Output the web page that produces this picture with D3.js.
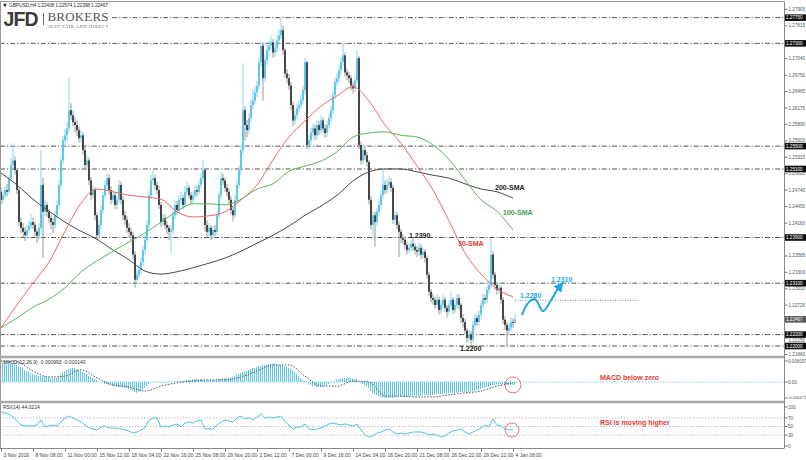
<!DOCTYPE html>
<html><head><meta charset="utf-8">
<script src="https://cdn.jsdelivr.net/npm/d3@7"></script>
<style>html,body{margin:0;padding:0;background:#fff;}svg{display:block;font-family:"Liberation Sans",Arial,sans-serif;}</style>
</head><body><svg id="c" width="806" height="460"></svg>
<script>
const opens=[1.2470,1.2456,1.2464,1.2473,1.2470,1.2494,1.2517,1.2525,1.2508,1.2473,
1.2417,1.2407,1.2400,1.2394,1.2403,1.2410,1.2417,1.2412,1.2400,1.2393,
1.2407,1.2482,1.2435,1.2447,1.2435,1.2424,1.2417,1.2412,1.2429,1.2447,
1.2482,1.2525,1.2560,1.2569,1.2581,1.2613,1.2604,1.2592,1.2587,1.2578,
1.2564,1.2569,1.2543,1.2517,1.2525,1.2490,1.2464,1.2473,1.2429,1.2394,
1.2412,1.2438,1.2464,1.2482,1.2494,1.2473,1.2456,1.2464,1.2447,1.2456,
1.2482,1.2456,1.2429,1.2421,1.2407,1.2400,1.2394,1.2360,1.2316,1.2325,
1.2333,1.2347,1.2368,1.2386,1.2412,1.2464,1.2490,1.2494,1.2482,1.2473,
1.2447,1.2417,1.2424,1.2412,1.2407,1.2400,1.2403,1.2429,1.2447,1.2438,
1.2456,1.2459,1.2447,1.2470,1.2477,1.2464,1.2456,1.2464,1.2473,1.2470,
1.2482,1.2494,1.2508,1.2412,1.2400,1.2407,1.2394,1.2403,1.2400,1.2429,
1.2464,1.2494,1.2490,1.2477,1.2470,1.2456,1.2438,1.2429,1.2456,1.2482,
1.2508,1.2543,1.2613,1.2587,1.2578,1.2599,1.2622,1.2630,1.2644,1.2656,
1.2697,1.2726,1.2669,1.2700,1.2718,1.2726,1.2732,1.2714,1.2721,1.2735,
1.2744,1.2753,1.2718,1.2677,1.2669,1.2656,1.2622,1.2595,1.2604,1.2616,
1.2622,1.2630,1.2648,1.2697,1.2552,1.2560,1.2574,1.2581,1.2569,1.2587,
1.2578,1.2595,1.2581,1.2573,1.2587,1.2599,1.2613,1.2639,1.2662,1.2669,
1.2683,1.2697,1.2709,1.2679,1.2674,1.2669,1.2656,1.2651,1.2665,1.2704,
1.2552,1.2525,1.2543,1.2534,1.2522,1.2456,1.2412,1.2429,1.2417,1.2435,
1.2447,1.2464,1.2482,1.2473,1.2482,1.2487,1.2477,1.2421,1.2429,1.2412,
1.2400,1.2389,1.2386,1.2377,1.2368,1.2372,1.2379,1.2374,1.2368,1.2365,
1.2372,1.2360,1.2365,1.2354,1.2325,1.2295,1.2284,1.2281,1.2272,1.2281,
1.2263,1.2272,1.2281,1.2267,1.2260,1.2272,1.2281,1.2263,1.2272,1.2284,
1.2272,1.2249,1.2242,1.2227,1.2214,1.2220,1.2211,1.2237,1.2249,1.2242,
1.2255,1.2272,1.2284,1.2281,1.2298,1.2307,1.2360,1.2325,1.2307,1.2298,
1.2302,1.2281,1.2246,1.2237,1.2227,1.2232,1.2242,1.22408];
const highs=[1.2478,1.2472,1.2480,1.2484,1.2500,1.2530,1.2555,1.2532,1.2512,1.2478,
1.2425,1.2415,1.2408,1.2412,1.2420,1.2432,1.2425,1.2418,1.2405,1.2415,
1.2543,1.2495,1.2456,1.2452,1.2440,1.2430,1.2424,1.2436,1.2455,1.2490,
1.2532,1.2568,1.2580,1.2592,1.2670,1.2625,1.2612,1.2600,1.2595,1.2584,
1.2578,1.2574,1.2550,1.2534,1.2530,1.2496,1.2482,1.2478,1.2434,1.2420,
1.2445,1.2470,1.2490,1.2503,1.2500,1.2480,1.2472,1.2470,1.2462,1.2490,
1.2488,1.2462,1.2436,1.2428,1.2415,1.2408,1.2400,1.2366,1.2334,1.2342,
1.2356,1.2375,1.2394,1.2420,1.2472,1.2500,1.2508,1.2500,1.2488,1.2480,
1.2452,1.2432,1.2430,1.2418,1.2412,1.2410,1.2436,1.2455,1.2454,1.2464,
1.2470,1.2465,1.2480,1.2488,1.2482,1.2470,1.2472,1.2482,1.2480,1.2490,
1.2502,1.2525,1.2512,1.2420,1.2415,1.2412,1.2410,1.2412,1.2436,1.2470,
1.2505,1.2502,1.2495,1.2484,1.2476,1.2462,1.2445,1.2464,1.2490,1.2516,
1.2552,1.2695,1.2620,1.2596,1.2608,1.2632,1.2650,1.2655,1.2664,1.2705,
1.2734,1.2730,1.2710,1.2728,1.2735,1.2742,1.2738,1.2730,1.2744,1.2755,
1.2774,1.2762,1.2722,1.2685,1.2676,1.2662,1.2628,1.2612,1.2624,1.2630,
1.2640,1.2656,1.2704,1.2700,1.2570,1.2582,1.2590,1.2588,1.2595,1.2594,
1.2604,1.2600,1.2588,1.2594,1.2606,1.2620,1.2646,1.2670,1.2678,1.2692,
1.2706,1.2730,1.2714,1.2686,1.2680,1.2674,1.2662,1.2672,1.2718,1.2708,
1.2558,1.2552,1.2550,1.2540,1.2526,1.2462,1.2436,1.2435,1.2442,1.2455,
1.2472,1.2508,1.2490,1.2492,1.2498,1.2494,1.2482,1.2436,1.2434,1.2418,
1.2405,1.2396,1.2392,1.2382,1.2380,1.2386,1.2390,1.2380,1.2375,1.2380,
1.2378,1.2372,1.2370,1.2358,1.2330,1.2300,1.2292,1.2286,1.2290,1.2286,
1.2280,1.2290,1.2286,1.2272,1.2280,1.2295,1.2286,1.2280,1.2292,1.2290,
1.2276,1.2256,1.2248,1.2232,1.2228,1.2226,1.2244,1.2256,1.2254,1.2262,
1.2280,1.2292,1.2290,1.2306,1.2316,1.2389,1.2366,1.2330,1.2312,1.2310,
1.2306,1.2286,1.2252,1.2242,1.2240,1.2250,1.2248,1.22574];
const lows=[1.2448,1.2450,1.2458,1.2462,1.2466,1.2488,1.2510,1.2500,1.2466,1.2410,
1.2398,1.2390,1.2384,1.2388,1.2398,1.2405,1.2404,1.2392,1.2380,1.2386,
1.2400,1.2354,1.2428,1.2426,1.2415,1.2405,1.2398,1.2405,1.2422,1.2440,
1.2476,1.2518,1.2550,1.2560,1.2575,1.2596,1.2585,1.2575,1.2568,1.2556,
1.2555,1.2535,1.2508,1.2510,1.2482,1.2455,1.2458,1.2420,1.2386,1.2388,
1.2405,1.2432,1.2458,1.2475,1.2465,1.2448,1.2450,1.2440,1.2438,1.2450,
1.2448,1.2420,1.2412,1.2398,1.2390,1.2386,1.2350,1.2302,1.2308,1.2318,
1.2326,1.2340,1.2360,1.2380,1.2405,1.2458,1.2482,1.2474,1.2465,1.2440,
1.2408,1.2410,1.2404,1.2396,1.2385,1.2360,1.2396,1.2422,1.2430,1.2432,
1.2448,1.2440,1.2442,1.2464,1.2458,1.2448,1.2450,1.2458,1.2462,1.2465,
1.2476,1.2488,1.2400,1.2390,1.2392,1.2386,1.2388,1.2392,1.2395,1.2424,
1.2458,1.2482,1.2470,1.2462,1.2448,1.2430,1.2418,1.2424,1.2450,1.2476,
1.2500,1.2536,1.2560,1.2566,1.2572,1.2592,1.2615,1.2624,1.2636,1.2650,
1.2690,1.2630,1.2662,1.2692,1.2708,1.2718,1.2705,1.2706,1.2714,1.2728,
1.2738,1.2710,1.2670,1.2660,1.2648,1.2614,1.2585,1.2588,1.2598,1.2608,
1.2615,1.2624,1.2640,1.2545,1.2544,1.2552,1.2566,1.2560,1.2562,1.2570,
1.2572,1.2574,1.2565,1.2566,1.2580,1.2592,1.2606,1.2632,1.2655,1.2662,
1.2676,1.2690,1.2672,1.2666,1.2660,1.2648,1.2642,1.2645,1.2660,1.2545,
1.2518,1.2518,1.2526,1.2514,1.2448,1.2404,1.2390,1.2374,1.2410,1.2428,
1.2440,1.2458,1.2466,1.2466,1.2476,1.2470,1.2414,1.2412,1.2404,1.2356,
1.2380,1.2378,1.2370,1.2360,1.2362,1.2365,1.2366,1.2360,1.2356,1.2358,
1.2352,1.2354,1.2346,1.2318,1.2288,1.2276,1.2272,1.2265,1.2266,1.2255,
1.2256,1.2266,1.2260,1.2250,1.2255,1.2266,1.2256,1.2258,1.2266,1.2264,
1.2240,1.2232,1.2220,1.2205,1.2208,1.2202,1.2206,1.2230,1.2235,1.2236,
1.2248,1.2266,1.2274,1.2275,1.2292,1.2300,1.2318,1.2298,1.2290,1.2292,
1.2274,1.2238,1.2228,1.2199,1.2220,1.2225,1.2232,1.22398];
const closes=[1.2456,1.2464,1.2473,1.2470,1.2494,1.2517,1.2525,1.2508,1.2473,1.2417,
1.2407,1.2400,1.2394,1.2403,1.2410,1.2417,1.2412,1.2400,1.2393,1.2407,
1.2482,1.2435,1.2447,1.2435,1.2424,1.2417,1.2412,1.2429,1.2447,1.2482,
1.2525,1.2560,1.2569,1.2581,1.2613,1.2604,1.2592,1.2587,1.2578,1.2564,
1.2569,1.2543,1.2517,1.2525,1.2490,1.2464,1.2473,1.2429,1.2394,1.2412,
1.2438,1.2464,1.2482,1.2494,1.2473,1.2456,1.2464,1.2447,1.2456,1.2482,
1.2456,1.2429,1.2421,1.2407,1.2400,1.2394,1.2360,1.2316,1.2325,1.2333,
1.2347,1.2368,1.2386,1.2412,1.2464,1.2490,1.2494,1.2482,1.2473,1.2447,
1.2417,1.2424,1.2412,1.2407,1.2400,1.2403,1.2429,1.2447,1.2438,1.2456,
1.2459,1.2447,1.2470,1.2477,1.2464,1.2456,1.2464,1.2473,1.2470,1.2482,
1.2494,1.2508,1.2412,1.2400,1.2407,1.2394,1.2403,1.2400,1.2429,1.2464,
1.2494,1.2490,1.2477,1.2470,1.2456,1.2438,1.2429,1.2456,1.2482,1.2508,
1.2543,1.2613,1.2587,1.2578,1.2599,1.2622,1.2630,1.2644,1.2656,1.2697,
1.2726,1.2669,1.2700,1.2718,1.2726,1.2732,1.2714,1.2721,1.2735,1.2744,
1.2753,1.2718,1.2677,1.2669,1.2656,1.2622,1.2595,1.2604,1.2616,1.2622,
1.2630,1.2648,1.2697,1.2552,1.2560,1.2574,1.2581,1.2569,1.2587,1.2578,
1.2595,1.2581,1.2573,1.2587,1.2599,1.2613,1.2639,1.2662,1.2669,1.2683,
1.2697,1.2709,1.2679,1.2674,1.2669,1.2656,1.2651,1.2665,1.2704,1.2552,
1.2525,1.2543,1.2534,1.2522,1.2456,1.2412,1.2429,1.2417,1.2435,1.2447,
1.2464,1.2482,1.2473,1.2482,1.2487,1.2477,1.2421,1.2429,1.2412,1.2400,
1.2389,1.2386,1.2377,1.2368,1.2372,1.2379,1.2374,1.2368,1.2365,1.2372,
1.2360,1.2365,1.2354,1.2325,1.2295,1.2284,1.2281,1.2272,1.2281,1.2263,
1.2272,1.2281,1.2267,1.2260,1.2272,1.2281,1.2263,1.2272,1.2284,1.2272,
1.2249,1.2242,1.2227,1.2214,1.2220,1.2211,1.2237,1.2249,1.2242,1.2255,
1.2272,1.2284,1.2281,1.2298,1.2307,1.2360,1.2325,1.2307,1.2298,1.2302,
1.2281,1.2246,1.2237,1.2227,1.2232,1.2242,1.2241,1.22467];

// indicator series sampled every 8 bars (bars 0,8,...,256)
const sma30=[1.2232,1.2272,1.2310,1.2347,1.2401,1.2450,1.2475,1.2470,1.2464,1.2461,1.2457,1.2435,1.2426,1.2428,1.2435,1.2456,1.2482,1.2526,1.2566,1.2594,1.2620,1.2638,1.2654,1.2629,1.2587,1.2555,1.2515,1.2473,1.2419,1.2363,1.2326,1.2300,1.2286];
const sma100=[1.2232,1.2249,1.2268,1.2282,1.2302,1.2330,1.2349,1.2366,1.2382,1.2398,1.2417,1.2436,1.2449,1.2449,1.2447,1.2457,1.2475,1.2484,1.2506,1.2515,1.2524,1.2540,1.2566,1.2573,1.2575,1.2569,1.2566,1.2552,1.2527,1.2491,1.2456,1.2436,1.2403];
const sma200=[1.2503,1.2482,1.2457,1.2436,1.2417,1.2401,1.2387,1.2368,1.2351,1.2331,1.2326,1.2330,1.2337,1.2345,1.2354,1.2366,1.2380,1.2394,1.2410,1.2429,1.2445,1.2464,1.2489,1.2505,1.2510,1.2510,1.2505,1.2499,1.2494,1.2484,1.2475,1.2470,1.2459];
const macdSignal=[0.0071,0.0068,0.0037,0.0017,0.0020,0.0041,0.0014,-0.0010,-0.0017,-0.0031,-0.0014,-0.0003,0.0003,0.0007,0.0007,0.0017,0.0037,0.0058,0.0058,0.0020,-0.0014,-0.0014,0.0003,0.0000,-0.0048,-0.0048,-0.0051,-0.0051,-0.0044,-0.0037,-0.0031,-0.0014,-0.0003];

// MACD main (histogram), one per bar
const macdHist=[0.0061,0.0065,0.0065,0.0065,0.0065,0.0061,0.0061,0.0061,0.0058,0.0054,
0.0051,0.0048,0.0041,0.0037,0.0034,0.0031,0.0027,
0.0024,0.0024,0.0020,0.0020,0.0020,0.0020,0.0017,0.0017,
0.0014,0.0014,0.0014,0.0014,0.0017,
0.0024,0.0031,0.0037,0.0041,
0.0044,0.0048,0.0048,0.0048,0.0044,0.0041,
0.0037,0.0034,0.0031,0.0027,
0.0020,0.0017,0.0014,0.0010,0.0007,
0.0003,0.0000,-0.0003,
-0.0007,-0.0007,-0.0010,-0.0010,-0.0014,
-0.0014,-0.0017,-0.0017,-0.0017,-0.0020,-0.0020,-0.0020,-0.0024,-0.0027,-0.0031,
-0.0034,-0.0037,-0.0034,-0.0031,-0.0027,
-0.0020,-0.0014,-0.0007,-0.0003,
0.0000,0.0003,0.0003,0.0001,-0.0001,-0.0003,
-0.0003,-0.0003,-0.0001,0.0001,0.0001,0.0003,0.0001,0.0002,0.0003,0.0004,0.0004,0.0007,
0.0007,0.0007,0.0010,0.0010,0.0010,0.0011,0.0010,0.0008,0.0007,0.0007,
0.0007,0.0007,0.0006,0.0007,0.0008,0.0010,
0.0011,0.0013,0.0014,0.0014,0.0015,0.0017,0.0018,
0.0020,0.0024,0.0027,0.0031,0.0034,0.0037,0.0038,0.0041,0.0044,0.0048,
0.0048,0.0051,0.0054,0.0055,0.0058,0.0058,0.0059,0.0061,0.0062,0.0062,
0.0061,0.0059,0.0058,0.0058,0.0057,0.0054,0.0051,0.0048,0.0044,0.0041,
0.0034,0.0027,0.0020,0.0014,0.0007,
0.0003,0.0000,-0.0007,-0.0010,-0.0014,-0.0014,-0.0017,
-0.0017,-0.0017,-0.0016,-0.0014,-0.0010,-0.0007,-0.0003,0.0000,
0.0003,0.0007,0.0010,0.0011,0.0013,0.0014,0.0014,0.0013,0.0013,0.0011,0.0010,0.0011,
0.0003,-0.0003,-0.0007,-0.0010,-0.0014,
-0.0020,-0.0031,-0.0037,-0.0041,-0.0044,-0.0048,-0.0051,
-0.0052,-0.0054,-0.0055,-0.0055,-0.0055,-0.0054,-0.0054,-0.0052,-0.0051,
-0.0051,-0.0051,-0.0051,-0.0050,-0.0050,-0.0048,-0.0048,-0.0048,-0.0047,-0.0047,-0.0047,-0.0045,-0.0044,-0.0044,-0.0044,-0.0045,
-0.0044,-0.0042,-0.0041,-0.0041,-0.0041,-0.0041,-0.0040,-0.0040,-0.0038,-0.0037,-0.0037,-0.0037,-0.0037,-0.0036,-0.0034,-0.0034,-0.0034,
-0.0035,-0.0034,-0.0031,-0.0031,-0.0030,-0.0027,-0.0027,-0.0024,
-0.0020,-0.0020,-0.0017,-0.0016,-0.0013,-0.0010,-0.0010,-0.0008,
-0.0007,-0.0007,-0.0008,-0.0008,-0.0009,-0.0010,-0.0010,-0.0010,-0.0010];

// RSI(14) sampled every 2 bars (bars 0,2,...,256)
const rsiValues=[83.7,81.4,79.1,72.1,62.8,53.5,51.2,51.2,51.2,53.5,
65.1,48.8,51.2,53.5,51.2,60.5,69.8,74.4,69.8,65.1,
60.5,53.5,46.5,44.2,41.9,48.8,51.2,46.5,46.5,46.5,
44.2,41.9,39.5,34.9,37.2,41.9,46.5,65.1,69.8,69.8,
48.8,51.2,48.8,53.5,55.8,48.8,58.1,60.5,58.1,62.8,
65.1,44.2,44.2,44.2,53.5,60.5,65.1,62.8,60.5,69.8,
74.4,67.4,69.8,65.1,72.1,79.1,69.8,72.1,69.8,72.1,
74.4,60.5,53.5,44.2,48.8,48.8,55.8,44.2,41.9,44.2,
46.5,51.2,55.8,58.1,55.8,53.5,55.8,53.5,51.2,55.8,
41.9,30.2,25.6,27.9,34.9,37.2,41.9,44.2,37.2,32.6,
34.9,32.6,34.9,37.2,37.2,37.2,34.9,30.2,32.6,30.2,
25.6,27.9,34.9,39.5,41.9,44.2,37.2,32.6,37.2,41.9,
46.5,53.5,48.8,67.4,53.5,51.2,44.2,41.9,44.0];

const dateLabels=["3 Nov 2016","8 Nov 08:00","11 Nov 00:00","15 Nov 12:00","18 Nov 04:00","22 Nov 16:00","25 Nov 08:00","29 Nov 20:00","2 Dec 12:00","7 Dec 00:00","9 Dec 16:00","14 Dec 04:00","16 Dec 20:00","21 Dec 08:00","26 Dec 22:00","29 Dec 12:00","4 Jan 08:00"];
const priceTicks=[1.21860,1.22150,1.22725,1.23010,1.23300,1.23585,1.24160,1.24450,1.24740,1.25025,1.25315,1.25600,1.25890,1.26175,1.26465,1.26750,1.27040,1.27615,1.27905];
const levelLines=[1.27750,1.27300,1.25500,1.25100,1.23900,1.23100,1.22200,1.22000];
const currentPrice=1.22467;
const projBars=[260.5,263.5,267,271,274.5,277.5,280];
const projPrices=[1.2254,1.2275,1.2282,1.2261,1.2277,1.2295,1.2307];
const rsiLevels=[70,50,30];

const svg=d3.select("#c");
svg.append("rect").attr("width",806).attr("height",460).attr("fill","#fff");
const x=d3.scaleLinear().domain([-0.5,391.5]).range([0,784]);
const yP=d3.scaleLinear().domain([1.21825,1.27996]).range([356,3.6]);
const yM=d3.scaleLinear().domain([-0.006471,0.008157]).range([401,358]);
const yR=d3.scaleLinear().domain([0,100]).range([448,405]);
const bars=d3.range(closes.length);
const smaBars=d3.range(0,257,8);
const rsiBars=d3.range(0,257,2);

const defs=svg.append("defs");
[["cm",3,353],["cd",358,43],["cr",403,45]].forEach(([id,y0,h])=>defs.append("clipPath").attr("id",id).append("rect").attr("x",0).attr("y",y0).attr("width",784).attr("height",h));
defs.append("marker").attr("id","arr").attr("viewBox","0 0 10 10").attr("refX",6).attr("refY",5).attr("markerWidth",5).attr("markerHeight",5).attr("orient","auto")
  .append("path").attr("d","M0,0L10,5L0,10z").attr("fill","#1ea7df");

// ---- main panel
const gm=svg.append("g").attr("clip-path","url(#cm)");
gm.selectAll("line.lvl").data(levelLines).join("line").attr("x1",0).attr("x2",784)
  .attr("y1",d=>yP(d)).attr("y2",d=>yP(d)).attr("stroke","#555").attr("stroke-width",1).attr("stroke-dasharray","5,2,1.2,2");
const bull="#4fc3ea", bullW="#86d5f0", bear="#303030", bearW="#9a9a9a";
gm.selectAll("line.wick").data(bars).join("line").attr("x1",i=>x(i)).attr("x2",i=>x(i))
  .attr("y1",i=>yP(highs[i])).attr("y2",i=>yP(lows[i]))
  .attr("stroke",i=>closes[i]>=opens[i]?bullW:bearW).attr("stroke-width",1);
gm.selectAll("rect.body").data(bars).join("rect").attr("x",i=>x(i)-0.85).attr("width",1.7)
  .attr("y",i=>yP(Math.max(opens[i],closes[i])))
  .attr("height",i=>Math.max(1,Math.abs(yP(opens[i])-yP(closes[i]))))
  .attr("fill",i=>closes[i]>=opens[i]?bull:bear);
const smaLine=d3.line().x((d,k)=>x(smaBars[k])).y(d=>yP(d)).curve(d3.curveMonotoneX);
[[sma200,"#4a4a4a"],[sma100,"#5cb85c"],[sma30,"#f26666"]].forEach(([s,c])=>
  gm.append("path").attr("d",smaLine(s)).attr("fill","none").attr("stroke",c).attr("stroke-width",1));
// projection
gm.append("line").attr("x1",x(257)).attr("x2",x(319.5)).attr("y1",yP(1.2280)).attr("y2",yP(1.2280))
  .attr("stroke","#888").attr("stroke-dasharray","1,1.5");
const projLine=d3.line().x((d,k)=>x(projBars[k])).y(d=>yP(d)).curve(d3.curveCatmullRom);
gm.append("path").attr("d",projLine(projPrices)).attr("fill","none").attr("stroke","#1ea7df").attr("stroke-width",2).attr("marker-end","url(#arr)");

// logo + header
svg.append("rect").attr("x",1).attr("y",9).attr("width",110).attr("height",20).attr("fill","#fff");
svg.append("text").attr("x",3).attr("y",7).attr("font-size",5).attr("fill","#333").attr("font-family","DejaVu Sans,sans-serif").text("▼");
svg.append("text").attr("x",9).attr("y",7).attr("font-size",5).attr("fill","#333").attr("textLength",99).text("GBPUSD,H4  1.22408 1.22574 1.22398 1.22467");
svg.append("text").attr("x",3.5).attr("y",26).attr("font-size",19.5).attr("font-weight","bold").attr("fill","#3a3a3a").attr("textLength",35).text("JFD");
svg.append("line").attr("x1",43.5).attr("x2",43.5).attr("y1",13).attr("y2",25).attr("stroke","#666");
svg.append("text").attr("x",47.5).attr("y",21).attr("font-size",13).attr("font-family","Liberation Serif,serif").attr("fill","#555").attr("textLength",61).text("BROKERS");
svg.append("text").attr("x",48).attr("y",27.5).attr("font-size",4.3).attr("font-family","Liberation Serif,serif").attr("fill","#555").attr("textLength",60).text("JUST FAIR AND DIRECT");

// annotations
const ann=(t,b,yv,c,fs)=>svg.append("text").attr("x",x(b)).attr("y",yv).attr("dy","0.35em").attr("font-size",fs||7).attr("font-weight","bold").attr("fill",c).text(t);
ann("200-SMA",247,yP(1.2477),"#222");
ann("100-SMA",251,yP(1.2433),"#43a047");
ann("30-SMA",228.5,yP(1.2380),"#e53935");
ann("1.2390",204,yP(1.2393),"#222");
ann("1.2200",229.5,yP(1.2195),"#222");
ann("1.2280",259.5,yP(1.2288),"#29abe2");
ann("1.2310",275,yP(1.2317),"#29abe2");

// ---- MACD panel
const gd=svg.append("g").attr("clip-path","url(#cd)");
gd.append("line").attr("x1",0).attr("x2",784).attr("y1",yM(0)).attr("y2",yM(0)).attr("stroke","#7fd0ee").attr("stroke-dasharray","1.5,1.5");
gd.selectAll("rect.h").data(bars).join("rect").attr("x",i=>x(i)-1).attr("width",1)
  .attr("y",i=>Math.min(yM(0),yM(macdHist[i]))).attr("height",i=>Math.abs(yM(macdHist[i])-yM(0)))
  .attr("fill","#5cc8ea");
gd.append("path").attr("d",d3.line().x((d,k)=>x(smaBars[k])).y(d=>yM(d)).curve(d3.curveMonotoneX)(macdSignal))
  .attr("fill","none").attr("stroke","#555").attr("stroke-width",1).attr("stroke-dasharray","1.5,1.5");
svg.append("text").attr("x",3).attr("y",364).attr("font-size",5).attr("fill","#333").text("MACD(12,26,9) -0.000993 -0.000140");
svg.append("circle").attr("cx",x(256)).attr("cy",yM(-0.0010)).attr("r",8).attr("fill","none").attr("stroke","#e57373");
ann("MACD below zero",299.5,yM(0.0014),"#e53935");

// ---- RSI panel
const gr=svg.append("g").attr("clip-path","url(#cr)");
gr.selectAll("line.lv").data(rsiLevels).join("line").attr("x1",0).attr("x2",784).attr("y1",d=>yR(d)).attr("y2",d=>yR(d))
  .attr("stroke","#b5b5b5").attr("stroke-dasharray","1.2,1.8");
gr.append("path").attr("d",d3.line().x((d,k)=>x(rsiBars[k])).y(d=>yR(d))(rsiValues)).attr("fill","none").attr("stroke","#4fc3ea").attr("stroke-width",1);
svg.append("text").attr("x",3).attr("y",409).attr("font-size",5).attr("fill","#333").text("RSI(14) 44.0224");
svg.append("circle").attr("cx",x(255.5)).attr("cy",yR(41.9)).attr("r",7).attr("fill","none").attr("stroke","#e57373");
ann("RSI is moving higher",299.5,yR(58.1),"#e53935");

// ---- frame / separators
svg.append("line").attr("x1",0).attr("x2",784).attr("y1",1.5).attr("y2",1.5).attr("stroke","#999");
svg.append("line").attr("x1",0.5).attr("x2",0.5).attr("y1",1.5).attr("y2",448).attr("stroke","#999");
svg.append("line").attr("x1",784.5).attr("x2",784.5).attr("y1",1.5).attr("y2",448).attr("stroke","#888");
[357,402].forEach(v=>svg.append("line").attr("x1",0).attr("x2",784).attr("y1",v).attr("y2",v).attr("stroke","#a8a8a8").attr("stroke-width",2.5));
svg.append("line").attr("x1",0).attr("x2",784.5).attr("y1",448.5).attr("y2",448.5).attr("stroke","#888");

// right price axis
const ra=svg.append("g").attr("transform","translate(784.5,0)")
  .call(d3.axisRight(yP).tickValues(priceTicks).tickSize(3).tickPadding(1).tickFormat(d3.format(".5f")));
ra.select(".domain").remove();
ra.selectAll("line").attr("stroke","#777");
ra.selectAll("text").attr("font-size",4.6).attr("fill","#555").attr("font-family","Liberation Sans,Arial,sans-serif")
  .attr("dy",d=>d===1.22150?"0.85em":"0.32em");
const boxes=svg.append("g");
levelLines.forEach(v=>{
  boxes.append("rect").attr("x",785).attr("y",yP(v)-3.3).attr("width",21).attr("height",6.6).attr("fill","#111");
  boxes.append("text").attr("x",786).attr("y",yP(v)).attr("dy","0.35em").attr("font-size",4.6).attr("fill","#fff").text(d3.format(".5f")(v));
});
boxes.append("rect").attr("x",785).attr("y",yP(currentPrice)-3.3).attr("width",21).attr("height",6.6).attr("fill","#5a5a5a");
boxes.append("text").attr("x",786).attr("y",yP(currentPrice)).attr("dy","0.35em").attr("font-size",4.6).attr("fill","#fff").text(d3.format(".5f")(currentPrice));

// MACD / RSI right labels
const side=(t,yv,fs)=>{svg.append("line").attr("x1",784.5).attr("x2",787.5).attr("y1",yv).attr("y2",yv).attr("stroke","#777");
  svg.append("text").attr("x",788).attr("y",yv).attr("dy","0.35em").attr("font-size",fs||4.6).attr("fill","#555").text(t);};
side("0.008157",yM(0.008157)+3); side("0.00",yM(0)); side("-0.006471",yM(-0.006471)-3,4.1);
side("100",yR(100)+2); rsiLevels.forEach(v=>side(String(v),yR(v))); side("0",yR(0)-2);

// bottom time axis
const labelBars=d3.range(0,257,16);
const ba=svg.append("g").attr("transform","translate(0,448.5)")
  .call(d3.axisBottom(x).tickValues(labelBars).tickSize(3).tickPadding(2).tickFormat((d,k)=>dateLabels[k]));
ba.select(".domain").remove();
ba.selectAll("line").attr("stroke","#777");
ba.selectAll("text").attr("text-anchor","start").attr("dx",2).attr("font-size",5).attr("fill","#444").attr("font-family","Liberation Sans,Arial,sans-serif");
</script></body></html>
